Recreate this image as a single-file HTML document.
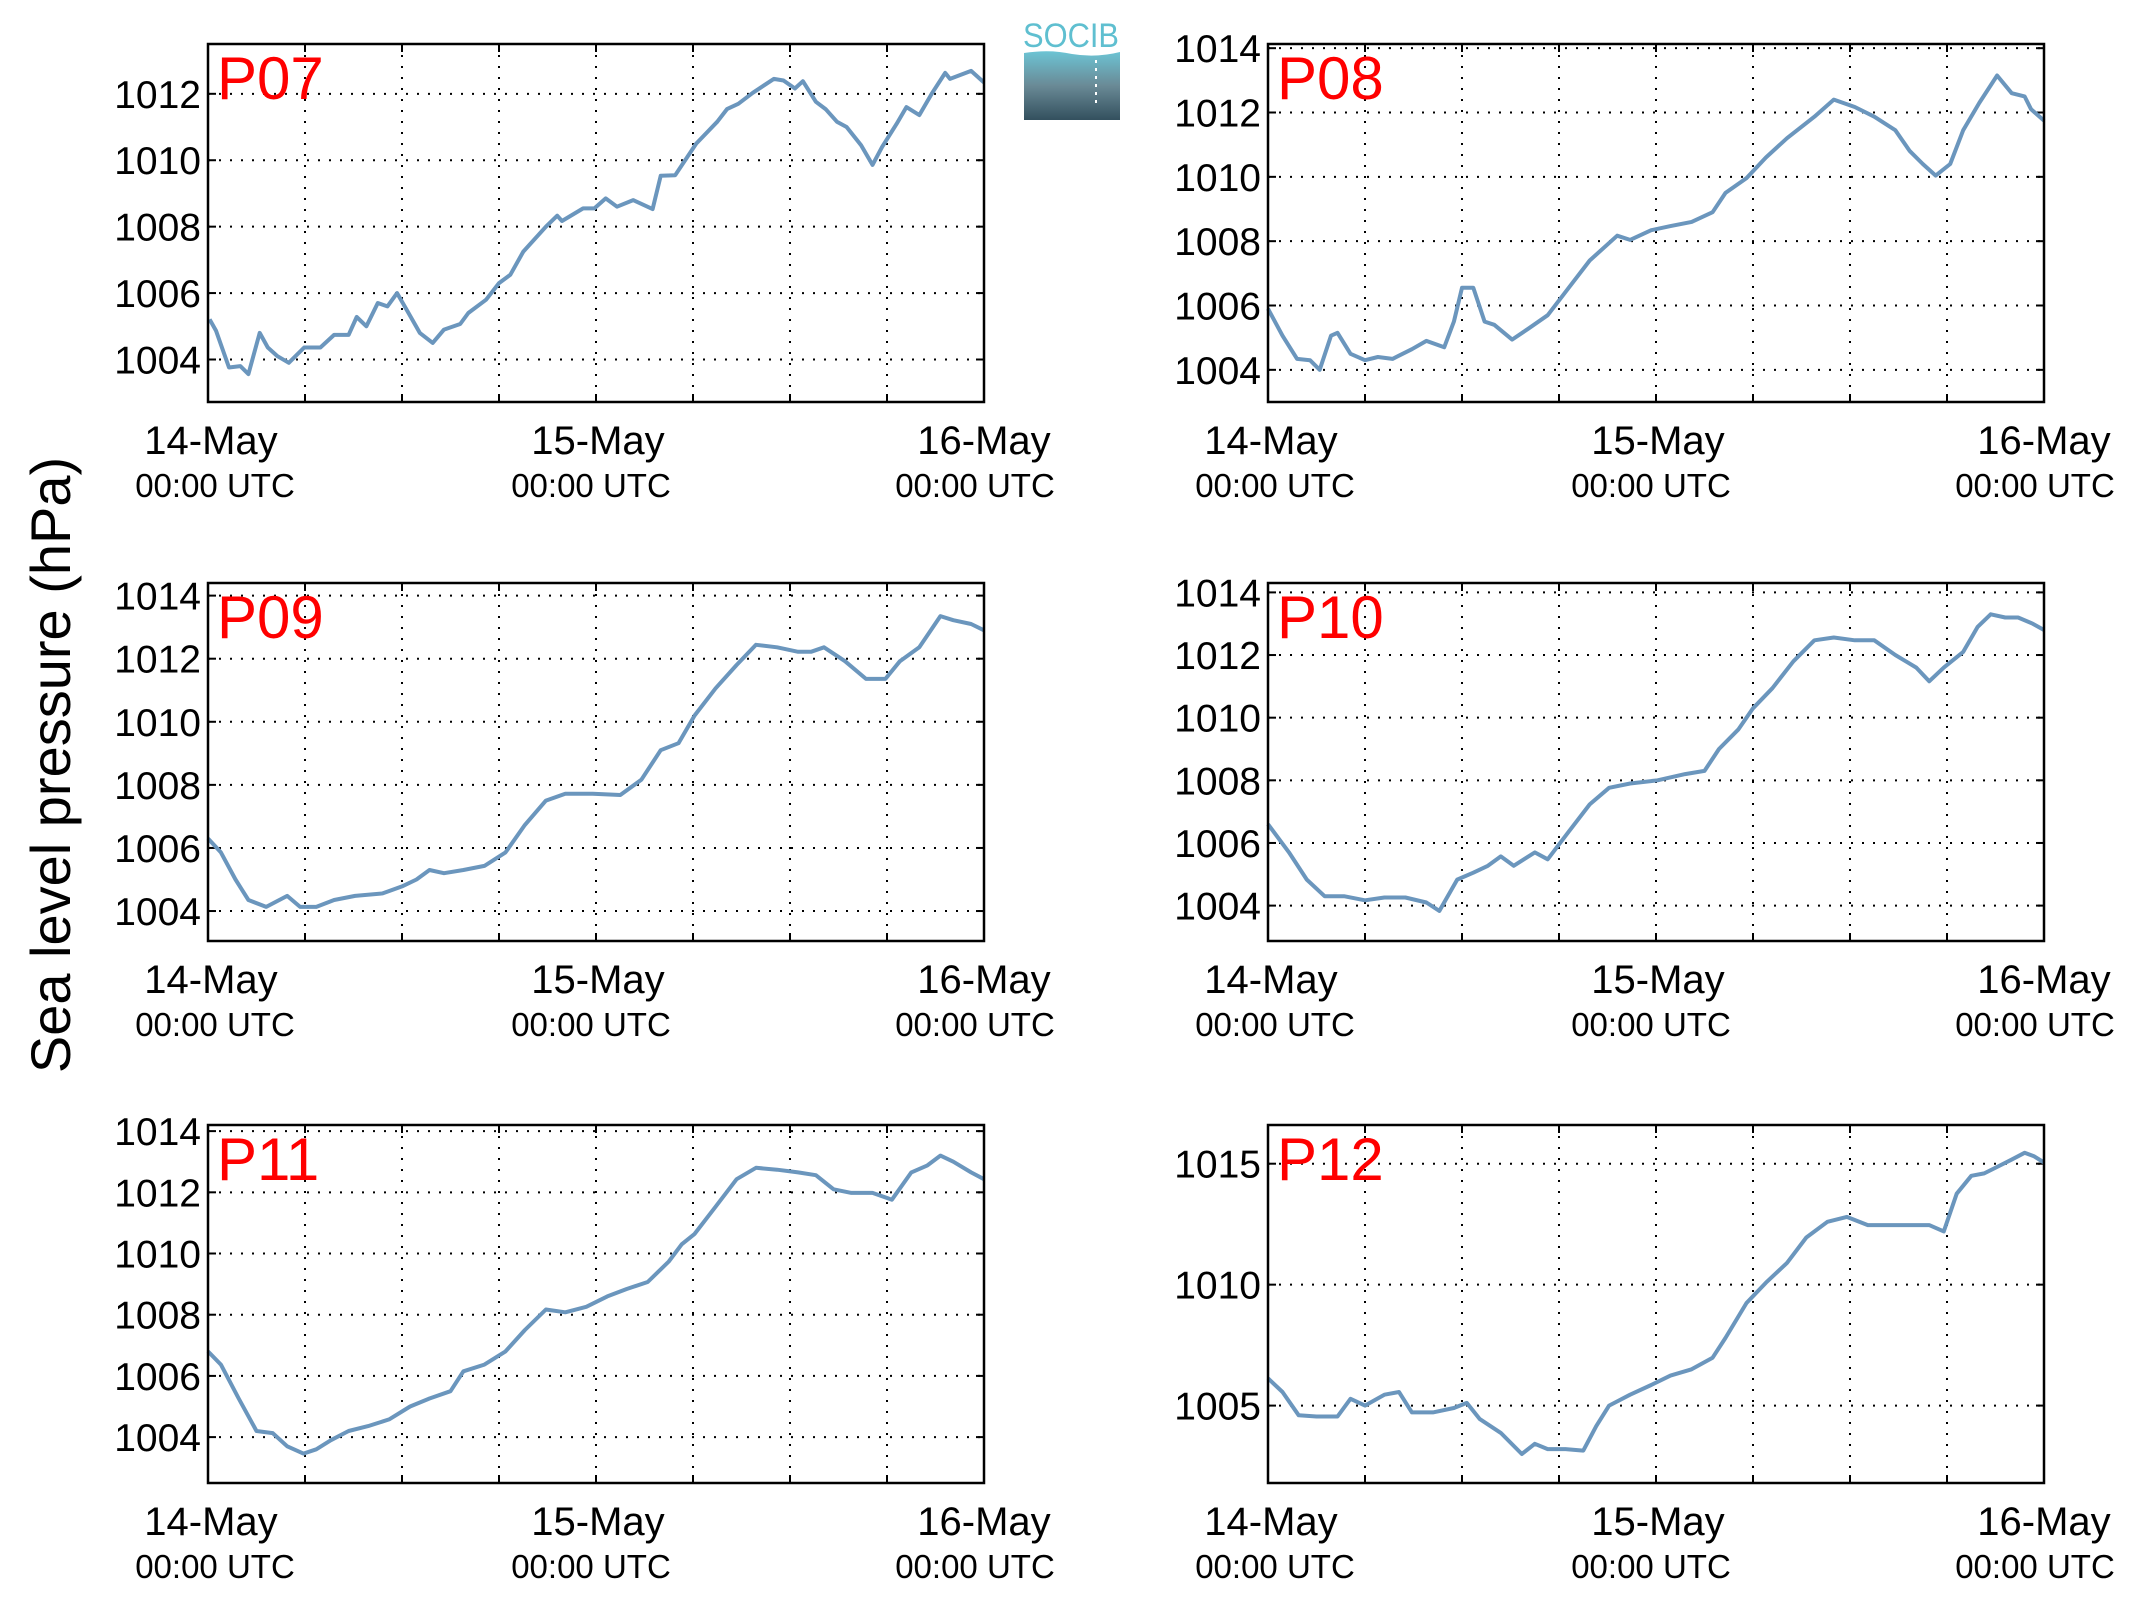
<!DOCTYPE html>
<html><head><meta charset="utf-8"><style>
html,body{margin:0;padding:0;background:#fff;}
svg{display:block;font-family:"Liberation Sans",Arial,sans-serif;}
</style></head><body>
<svg id="chart" width="2133" height="1608" viewBox="0 0 2133 1608" xmlns="http://www.w3.org/2000/svg">
<defs><linearGradient id="lg" x1="0" y1="0" x2="0" y2="1"><stop offset="0" stop-color="#6cc4d4"/><stop offset="0.5" stop-color="#6a8a96"/><stop offset="1" stop-color="#33505e"/></linearGradient></defs>
<text transform="translate(70,765) rotate(-90)" text-anchor="middle" font-size="56" fill="#000">Sea level pressure (hPa)</text>
<g>
<text x="1071" y="47" text-anchor="middle" font-size="34" fill="#5fbfd0" textLength="96" lengthAdjust="spacingAndGlyphs">SOCIB</text>
<path d="M1024,53 Q1050,49 1072,54 Q1096,58 1120,52 L1120,120 L1024,120 Z" fill="url(#lg)"/>
<line x1="1096" y1="60" x2="1096" y2="106" stroke="#fff" stroke-width="2" stroke-dasharray="3,5"/>
</g>
<g id="panels"></g>
</svg>
<script>
const names=["P07","P08","P09","P10","P11","P12"];
const hoursP07=[0.1,0.5,1.3,2.0,2.5,3.2,3.7,4.3,5.0,5.95,6.95,7.8,8.7,9.2,9.8,10.5,11.1,11.7,12.4,13.1,13.9,14.6,15.6,16.1,17.2,18.0,18.7,19.5,20.9,21.6,21.9,23.2,23.9,24.6,25.3,26.3,27.5,28.0,28.9,30.2,31.5,32.1,32.8,33.7,35.0,35.6,36.3,36.8,37.6,38.2,38.9,39.5,40.4,41.1,41.7,42.6,43.2,44.0,44.8,45.6,45.9,47.2,48.0];
const valuesP07=[1005.21,1004.86,1003.76,1003.8,1003.56,1004.8,1004.36,1004.1,1003.9,1004.36,1004.36,1004.74,1004.74,1005.28,1005.0,1005.7,1005.6,1006.0,1005.4,1004.8,1004.5,1004.9,1005.07,1005.4,1005.8,1006.3,1006.55,1007.25,1008.0,1008.33,1008.17,1008.55,1008.55,1008.85,1008.6,1008.8,1008.53,1009.53,1009.55,1010.5,1011.16,1011.54,1011.7,1012.03,1012.45,1012.4,1012.16,1012.38,1011.76,1011.54,1011.16,1011.0,1010.45,1009.86,1010.4,1011.1,1011.6,1011.36,1012.03,1012.63,1012.45,1012.69,1012.34];
const hoursP08=[0,0.9,1.8,2.6,3.2,3.9,4.3,5.1,6,6.8,7.7,8.9,9.8,10.9,11.5,12,12.7,13.4,14,15.1,16.1,17.3,18.6,19.9,21.6,22.4,23.7,24.9,26.2,27.5,28.3,29.6,30.8,32.1,33.8,35,36.3,37.5,38.8,39.7,40.5,41.3,42.2,43,44,45.1,46,46.8,47.2,48];
const valuesP08=[1005.9,1005.06,1004.34,1004.3,1004.0,1005.06,1005.15,1004.5,1004.3,1004.4,1004.34,1004.64,1004.9,1004.7,1005.5,1006.55,1006.55,1005.5,1005.4,1004.94,1005.28,1005.7,1006.55,1007.4,1008.17,1008.04,1008.34,1008.47,1008.6,1008.9,1009.5,1009.96,1010.6,1011.2,1011.87,1012.4,1012.17,1011.87,1011.45,1010.8,1010.4,1010.04,1010.4,1011.45,1012.3,1013.15,1012.6,1012.5,1012.1,1011.75];
const hoursP09=[0,0.8,1.7,2.5,3.6,4.9,5.7,6.7,7.8,9.1,10.8,12,12.9,13.7,14.6,15.8,17.1,18.4,19.6,20.9,22.1,23.8,25.5,26.8,28,29.1,30.1,31.4,32.7,33.9,35.2,36.5,37.3,38.1,39.4,40.7,41.9,42.8,44,45.3,46.1,47.2,48];
const valuesP09=[1006.3,1005.86,1005.0,1004.35,1004.13,1004.48,1004.13,1004.13,1004.35,1004.48,1004.56,1004.78,1005.0,1005.3,1005.2,1005.3,1005.43,1005.86,1006.73,1007.5,1007.72,1007.72,1007.68,1008.16,1009.1,1009.32,1010.2,1011.06,1011.8,1012.44,1012.36,1012.22,1012.22,1012.36,1011.92,1011.36,1011.36,1011.92,1012.36,1013.35,1013.22,1013.1,1012.9];
const hoursP10=[0,1.3,2.4,3.5,4.7,6,7.2,8.5,9.8,10.6,11.7,12.7,13.6,14.4,15.2,16.5,17.3,18.6,19.9,21.1,22.4,24.1,25.8,27,27.9,29.1,30,31.2,32.5,33.8,35,36.3,37.5,38.8,40.1,40.9,41.8,43,43.9,44.7,45.6,46.4,47.3,48];
const valuesP10=[1006.6,1005.7,1004.83,1004.3,1004.3,1004.17,1004.26,1004.26,1004.1,1003.83,1004.83,1005.05,1005.27,1005.57,1005.27,1005.7,1005.48,1006.36,1007.23,1007.76,1007.9,1008.0,1008.2,1008.3,1009.0,1009.63,1010.3,1010.94,1011.8,1012.47,1012.56,1012.47,1012.47,1012.0,1011.6,1011.16,1011.6,1012.1,1012.9,1013.3,1013.2,1013.2,1013.0,1012.8];
const hoursP11=[0,0.8,1.9,3,4,4.9,5.9,6.7,7.6,8.7,9.9,11.2,12.5,13.7,15,15.8,17.1,18.4,19.6,20.9,22.1,23.4,24.7,25.9,27.2,28.5,29.3,30.1,31.4,32.7,33.9,35.2,36.5,37.6,38.7,39.8,41.1,42.3,43.5,44.5,45.3,46.1,47.2,48];
const valuesP11=[1006.8,1006.37,1005.26,1004.2,1004.13,1003.7,1003.46,1003.6,1003.9,1004.2,1004.36,1004.58,1005.0,1005.26,1005.5,1006.15,1006.37,1006.8,1007.5,1008.17,1008.08,1008.26,1008.6,1008.84,1009.07,1009.74,1010.3,1010.64,1011.53,1012.43,1012.8,1012.74,1012.65,1012.56,1012.1,1011.98,1011.98,1011.76,1012.65,1012.88,1013.2,1013.0,1012.65,1012.43];
const hoursP12=[0,0.9,1.9,3,4.3,5.1,6,7.2,8.1,8.9,10.2,11.5,12.3,13.1,14.4,15.7,16.5,17.3,18.4,19.5,20.3,21.1,22.4,23.7,24.9,26.2,27.5,28.3,29.6,30.8,32.1,33.3,34.6,35.8,37.1,38.4,39.7,40.9,41.8,42.6,43.5,44.3,45.2,46,46.8,47.4,48];
const valuesP12=[1006.13,1005.56,1004.6,1004.55,1004.55,1005.28,1005.0,1005.45,1005.56,1004.72,1004.72,1004.9,1005.11,1004.44,1003.87,1003.0,1003.42,1003.2,1003.2,1003.14,1004.15,1005.0,1005.45,1005.85,1006.24,1006.5,1006.98,1007.8,1009.24,1010.08,1010.9,1011.95,1012.6,1012.8,1012.46,1012.46,1012.46,1012.46,1012.2,1013.76,1014.5,1014.6,1014.9,1015.17,1015.45,1015.3,1015.05];
const yMin=[1002.72,1003.0,1003.05,1002.87,1002.5,1001.8];
const yMax=[1013.5,1014.13,1014.4,1014.3,1014.2,1016.6];
const yTicks=[[1004,1006,1008,1010,1012],[1004,1006,1008,1010,1012,1014],[1004,1006,1008,1010,1012,1014],[1004,1006,1008,1010,1012,1014],[1004,1006,1008,1010,1012,1014],[1005,1010,1015]];
const xTickHours=[0,6,12,18,24,30,36,42,48];
const xLabelHours=[0,24,48];
const xLabelDays=["14-May","15-May","16-May"];
const allHours=[hoursP07,hoursP08,hoursP09,hoursP10,hoursP11,hoursP12];
const allValues=[valuesP07,valuesP08,valuesP09,valuesP10,valuesP11,valuesP12];

const NS="http://www.w3.org/2000/svg";
const root=document.getElementById('panels');
const colsX=[208,1268], rowsY=[44,583,1125], W=776, H=358;
const dayOff=[3,2,0], timeOff=[7,-5,-9];
function mk(tag,attrs,parent){const e=document.createElementNS(NS,tag);for(const k in attrs)e.setAttribute(k,attrs[k]);parent.appendChild(e);return e;}
names.forEach((nm,i)=>{
  const x0=colsX[i%2], y0=rowsY[Math.floor(i/2)];
  const g=mk('g',{},root);
  
  
  const sx=h=>x0+h/48*W;
  const sy=v=>y0+H-(v-yMin[i])/(yMax[i]-yMin[i])*H;
  xTickHours.forEach(h=>{
    const l=mk('line',{x1:sx(h),x2:sx(h),y1:y0,y2:y0+H,stroke:'#000','stroke-width':2,'stroke-dasharray':'2,9'},g);
    
    
    mk('line',{x1:sx(h),x2:sx(h),y1:y0+H,y2:y0+H-8,stroke:'#000','stroke-width':2},g);
    mk('line',{x1:sx(h),x2:sx(h),y1:y0,y2:y0+8,stroke:'#000','stroke-width':2},g);
  });
  yTicks[i].forEach(v=>{
    const l=mk('line',{x1:x0,x2:x0+W,y1:sy(v),y2:sy(v),stroke:'#000','stroke-width':2,'stroke-dasharray':'2,9'},g);
    
    
    mk('line',{x1:x0,x2:x0+8,y1:sy(v),y2:sy(v),stroke:'#000','stroke-width':2},g);
    mk('line',{x1:x0+W,x2:x0+W-8,y1:sy(v),y2:sy(v),stroke:'#000','stroke-width':2},g);
    const t=mk('text',{x:x0-7,y:sy(v)+14,'text-anchor':'end','font-size':39,fill:'#000'},g);
    t.textContent=v;
    
    
  });
  xLabelHours.forEach((h,k)=>{
    const t1=mk('text',{x:sx(h)+dayOff[k],y:y0+H+52,'text-anchor':'middle','font-size':40,fill:'#000'},g);
    t1.textContent=xLabelDays[k];
    
    
    const t2=mk('text',{x:sx(h)+timeOff[k],y:y0+H+95,'text-anchor':'middle','font-size':33,fill:'#000'},g);
    t2.textContent='00:00 UTC';
    
    
  });
  const hs=allHours[i], vs=allValues[i];
  const d=hs.map((h,k)=>(k?'L':'M')+sx(h).toFixed(1)+','+sy(vs[k]).toFixed(1)).join(' ');
  const p=mk('path',{d:d,fill:'none',stroke:'#6b96bd','stroke-width':4,'stroke-linejoin':'round'},g);
  
  
  const fr=mk('rect',{x:x0,y:y0,width:W,height:H,fill:'none',stroke:'#000','stroke-width':2.5},g);
  
  
  const tt=mk('text',{x:x0+9,y:y0+55,'font-size':60,fill:'#ff0000'},g);
  tt.textContent=nm;
  
  
});
</script>
</body></html>
